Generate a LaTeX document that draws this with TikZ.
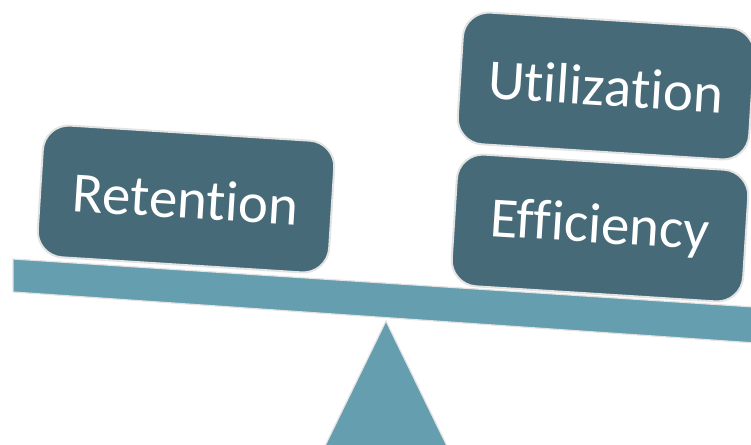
\documentclass[tikz,border=0pt]{standalone}
\usepackage{fontspec}
\setmainfont{Carlito}[Ligatures={NoCommon,NoRequired,NoContextual}]
\begin{document}
\begin{tikzpicture}[x=0.5pt,y=-0.5pt]
 \definecolor{slate}{HTML}{466A77}
 \definecolor{beamblue}{HTML}{659EAF}
 \tikzstyle{weight} = [fill=slate,draw=gray!22,line width=1pt,rounded corners=13pt,
                       minimum width=146pt,minimum height=66pt,inner sep=0,
                       text=white,font=\fontsize{28.5}{34}\selectfont,rotate=-3.6]
 \tikzstyle{plank} = [fill=beamblue,draw=gray!22,line width=0.6pt]
 \useasboundingbox (0,0) rectangle (751,445);
 \clip (0,0) rectangle (751,445);

% Fulcrum and beam
 \draw[plank] (386,321) -- (447,446) -- (325,446) -- cycle;
 \draw[plank] (13,259) -- (770,308) -- (770,344) -- (13,292) -- cycle;

% Weights on the beam
 \node[weight] (retention) at (186,199) {Retention};
 \node[weight] (utilization) at (606,86) {Utilization};
 \node[weight] (efficiency) at (600,228) {Efficiency};

\end{tikzpicture}
\end{document}
